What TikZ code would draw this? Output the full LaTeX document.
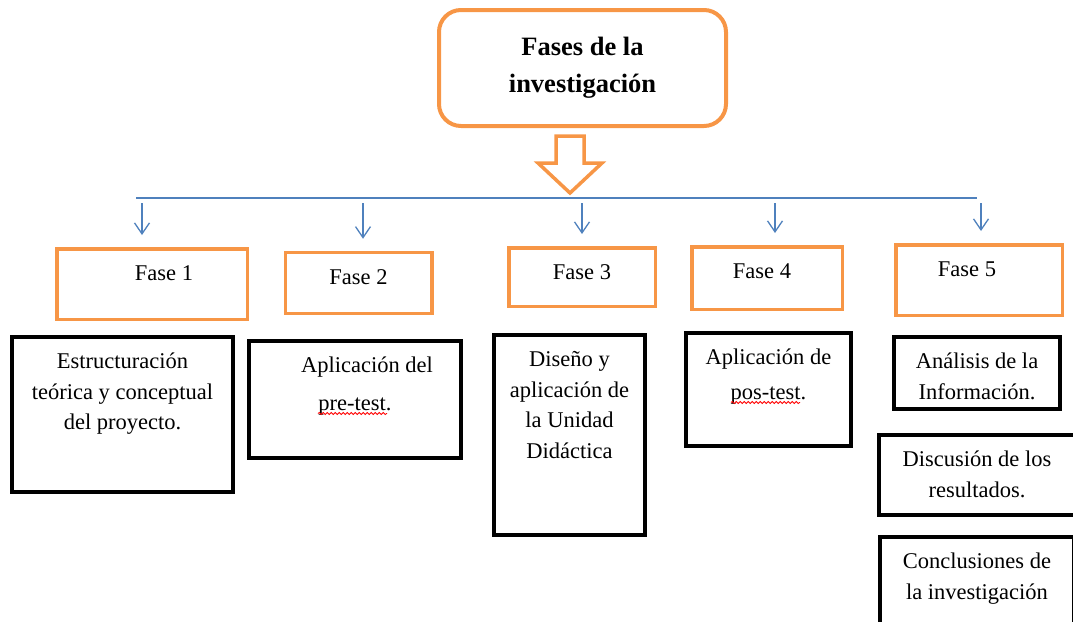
\documentclass[tikz,border=0pt]{standalone}
\usepackage{fontspec}
\setmainfont{Liberation Serif}
\usetikzlibrary{arrows.meta,decorations.pathmorphing}
\definecolor{naranja}{RGB}{247,150,70}
\definecolor{azul}{RGB}{79,129,189}
% caja de texto: ancho, alto, texto arriba
\newcommand\caja[3]{\parbox[c][#2][t]{#1}{\centering\vspace*{10.5pt}\strut #3\par}}
\begin{document}
\begin{tikzpicture}
  [x=1pt,y=-1pt,
   titulo/.style={draw=naranja,line width=4pt,rounded corners=22pt,minimum width=287pt,
     minimum height=116pt,align=center,font=\fontsize{26.5}{37}\selectfont\bfseries},
   fase/.style={draw=naranja,line width=3.5pt,inner sep=0pt,font=\fontsize{22.5}{30.5}\selectfont},
   bloque/.style={draw=black,line width=4pt,inner sep=0pt,font=\fontsize{22.5}{30.5}\selectfont},
   flecha/.style={azul,line width=1.3pt,-{Straight Barb[length=11pt,width=15pt]},
     shorten <=5pt,shorten >=12pt},
   onda/.style={red,line width=0.8pt,decorate,decoration={snake,amplitude=1.1pt,segment length=4pt}}]
  \useasboundingbox (0,0) rectangle (1073,621);
  \node[titulo] (tit) at (582.5,68) {Fases de la\\investigación};
  \draw[naranja,line width=3.5pt] (556,136) -- (584,136) -- (584,163) -- (602,163)
    -- (570,193) -- (538,163) -- (556,163) -- cycle;
  % fases
  \node[fase] (f1) at (152,284) {\caja{190.5pt}{70.5pt}{\hspace*{24pt}Fase 1}};
  \node[fase] (f2) at (358.5,283) {\caja{146.5pt}{61pt}{Fase 2}};
  \node[fase] (f3) at (582,277) {\caja{146.5pt}{58.5pt}{Fase 3}};
  \node[fase] (f4) at (767,278) {\caja{150.5pt}{62.5pt}{Fase 4\hspace*{10pt}}};
  \node[fase] (f5) at (979,280) {\caja{166.5pt}{70.5pt}{Fase 5\hspace*{24pt}}};
  % barra azul
  \coordinate (bi) at (136,198);
  \coordinate (bd) at (977,198);
  \draw[azul,line width=1.3pt] (bi) -- (bd);
  \foreach \x/\f in {142/f1,363/f2,582/f3,775/f4,981/f5}{
    \coordinate (p\f) at (\x,198);
    \draw[flecha] (p\f) -- (p\f |- \f.north);
  }
  % contenidos
  \node[bloque] (b1) at (122.5,414.5) {\caja{221pt}{155pt}{Estructuración\\teórica y conceptual\\del proyecto.}};
  \node[bloque] (b2) at (355,399.5) {\caja{212pt}{117pt}{\hspace*{24pt}Aplicación del\\[7pt]pre-test.}};
  \node[bloque] (b3) at (569.5,435) {\caja{151pt}{200pt}{Diseño y\\aplicación de\\la Unidad\\Didáctica}};
  \node[bloque] (b4) at (768.5,389.5) {\caja{165pt}{113pt}{Aplicación de\\[4pt]pos-test.}};
  \node[bloque] (b5) at (977,373) {\caja{166pt}{72pt}{Análisis de la\\Información.}};
  \node[bloque] (b6) at (977,475) {\caja{196pt}{80pt}{Discusión de los\\resultados.}};
  \node[bloque] (b7) at (977,587.5) {\caja{194pt}{101pt}{Conclusiones de\\la investigación}};
  % subrayado ortografico
  \draw[onda] (318,413.5) -- (387,413.5);
  \draw[onda] (731,402.5) -- (800,402.5);
\end{tikzpicture}
\end{document}
